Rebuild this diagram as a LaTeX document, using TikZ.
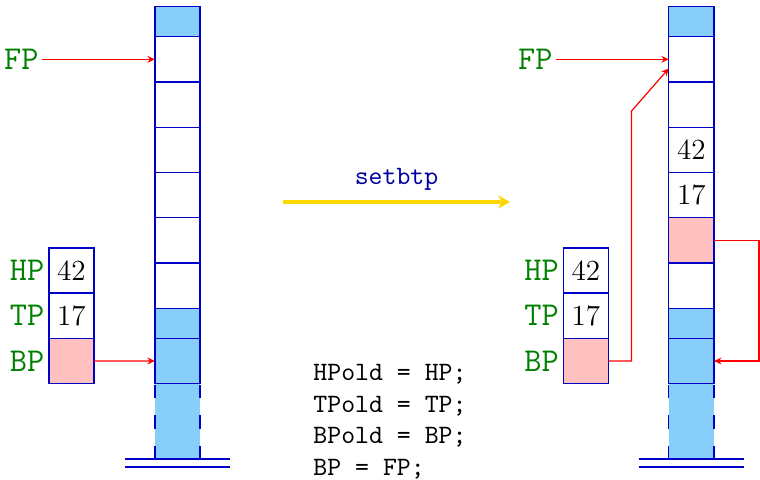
\documentclass[tikz,border=0pt]{standalone}
\usepackage{xcolor}
\usepackage{tikz}
\usetikzlibrary{positioning,arrows.meta}
\definecolor{stackline}{RGB}{0,0,200}
\definecolor{slotblue}{RGB}{135,206,250}
\definecolor{slotpink}{RGB}{255,192,192}
\definecolor{regcolor}{RGB}{0,128,0}
\definecolor{opcolor}{RGB}{0,0,160}
\definecolor{opgold}{RGB}{255,215,0}

\begin{document}
\begin{tikzpicture}[>={Stealth[length=2.8pt,width=2.6pt]}, node distance=0pt,
  cell/.style={draw=stackline, line width=0.5pt, minimum width=0.6cm, minimum height=0.6cm,
               inner sep=0pt, outer sep=0pt, font=\fontsize{11pt}{13pt}\selectfont},
  halfcell/.style={cell, minimum height=0.4cm},
  used/.style={fill=slotblue},
  marked/.style={fill=slotpink},
  bottom/.style={fill=slotblue, minimum width=0.6cm, minimum height=1cm, inner sep=0pt, outer sep=0pt},
  regname/.style={text=regcolor, font=\fontsize{12.6pt}{15pt}\selectfont\ttfamily, inner sep=1pt},
  ptr/.style={->, red, line width=0.45pt},
  ground/.style={draw=stackline, line width=0.5pt}]
  \useasboundingbox (0,0) rectangle (10.078,6.352);

  % left stack (before)
  \node[bottom] (lb) at (2.354,0.765) {};
  \node[cell, used, above=of lb] (l0) {};
  \node[halfcell, used, above=of l0] (l1) {};
  \node[cell, above=of l1] (l2) {};
  \node[cell, above=of l2] (l3) {};
  \node[cell, above=of l3] (l4) {};
  \node[cell, above=of l4] (l5) {};
  \node[cell, above=of l5] (l6) {};
  \node[cell, above=of l6] (l7) {};
  \node[halfcell, used, above=of l7] (l8) {};
  \draw[stackline, line width=0.5pt, dash pattern=on 5pt off 6.5pt]
      (lb.south west) -- (lb.north west) (lb.south east) -- (lb.north east);
  \draw[ground] ([xshift=-0.7cm]lb.south) -- ([xshift=0.7cm]lb.south);
  \draw[ground] ([xshift=-0.7cm,yshift=-0.106cm]lb.south) -- ([xshift=0.7cm,yshift=-0.106cm]lb.south);

  % left registers
  \node[cell, marked] (lbp) at (0.948,1.565) {};
  \node[cell, above=of lbp] (ltp) {17};
  \node[cell, above=of ltp] (lhp) {42};
  \node[regname, left=0.5pt of lhp] (lhpname) {HP};
  \node[regname, left=0.5pt of ltp] (ltpname) {TP};
  \node[regname, left=0.5pt of lbp] (lbpname) {BP};
  \node[regname, left=1.5cm of l7] (lfp) {FP};
  \draw[ptr] (lfp.east) -- (l7.west);
  \draw[ptr] (lbp.east) -- (l0.west);

  % instruction
  \coordinate (go) at (3.753,3.673);
  \coordinate (done) at (6.763,3.673);
  \draw[opgold, line width=1.5pt, -{Stealth[length=4.5pt,width=5pt,inset=1.5pt]}] (go) --
      node[above=0.13cm, inner sep=0pt, text=opcolor, font=\ttfamily] (op) {setbtp} (done);
  \node[font=\ttfamily, align=left, anchor=north west, inner sep=0pt] (code) at (4.15,1.53)
      {HPold = HP;\\TPold = TP;\\BPold = BP;\\BP = FP;};

  % right stack (after)
  \node[bottom] (rb) at (9.169,0.765) {};
  \node[cell, used, above=of rb] (r0) {};
  \node[halfcell, used, above=of r0] (r1) {};
  \node[cell, above=of r1] (r2) {};
  \node[cell, marked, above=of r2] (r3) {};
  \node[cell, above=of r3] (r4) {17};
  \node[cell, above=of r4] (r5) {42};
  \node[cell, above=of r5] (r6) {};
  \node[cell, above=of r6] (r7) {};
  \node[halfcell, used, above=of r7] (r8) {};
  \draw[stackline, line width=0.5pt, dash pattern=on 5pt off 6.5pt]
      (rb.south west) -- (rb.north west) (rb.south east) -- (rb.north east);
  \draw[ground] ([xshift=-0.7cm]rb.south) -- ([xshift=0.7cm]rb.south);
  \draw[ground] ([xshift=-0.7cm,yshift=-0.106cm]rb.south) -- ([xshift=0.7cm,yshift=-0.106cm]rb.south);

  % right registers
  \node[cell, marked] (rbp) at (7.770,1.565) {};
  \node[cell, above=of rbp] (rtp) {17};
  \node[cell, above=of rtp] (rhp) {42};
  \node[regname, left=0.5pt of rhp] (rhpname) {HP};
  \node[regname, left=0.5pt of rtp] (rtpname) {TP};
  \node[regname, left=0.5pt of rbp] (rbpname) {BP};
  \node[regname, left=1.5cm of r7] (rfp) {FP};
  \draw[ptr] (rfp.east) -- (r7.west);
  \draw[ptr] (rbp.east) -- ++(0.305,0) -- ++(0,3.315) -- ([yshift=-0.12cm]r7.west);
  \draw[ptr] (r3.east) -- ++(0.596,0) |- (r0.east);
\end{tikzpicture}
\end{document}
